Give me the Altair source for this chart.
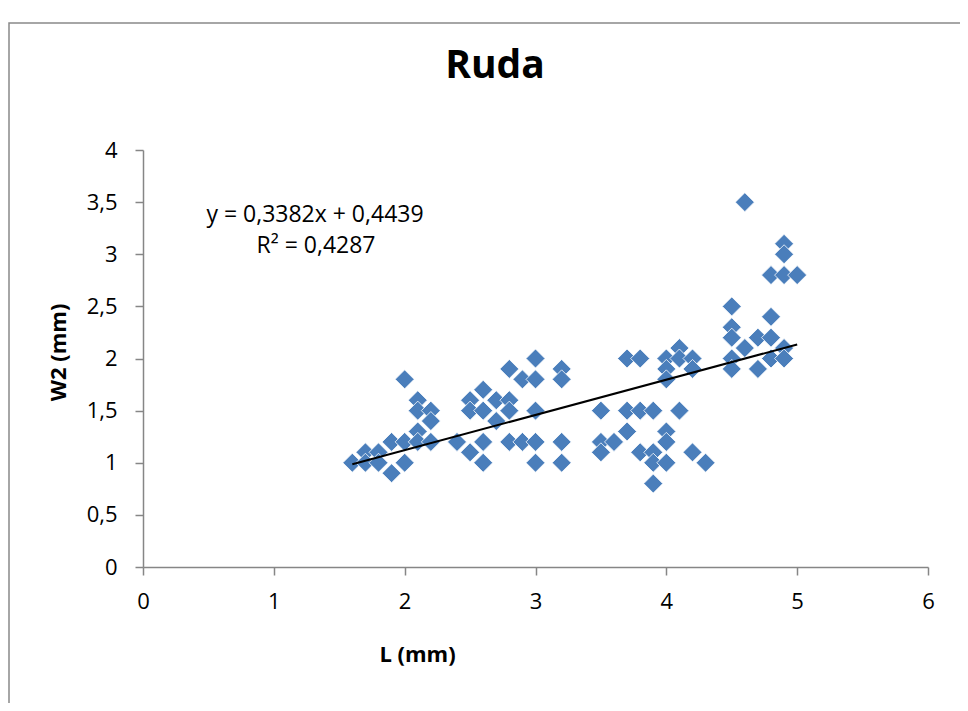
import altair as alt
import pandas as pd

# ---- data ----
L_mm = [1.6,
        1.7, 1.7,
        1.8, 1.8,
        1.9, 1.9,
        2.0, 2.0, 2.0,
        2.1, 2.1, 2.1, 2.1,
        2.2, 2.2, 2.2,
        2.4,
        2.5, 2.5, 2.5,
        2.6, 2.6, 2.6, 2.6,
        2.7, 2.7,
        2.8, 2.8, 2.8, 2.8,
        2.9, 2.9,
        3.0, 3.0, 3.0, 3.0, 3.0,
        3.2, 3.2, 3.2, 3.2,
        3.5, 3.5, 3.5,
        3.6,
        3.7, 3.7, 3.7,
        3.8, 3.8, 3.8,
        3.9, 3.9, 3.9, 3.9,
        4.0, 4.0, 4.0, 4.0, 4.0, 4.0,
        4.1, 4.1, 4.1,
        4.2, 4.2, 4.2,
        4.3,
        4.5, 4.5, 4.5, 4.5, 4.5,
        4.6, 4.6,
        4.7, 4.7,
        4.8, 4.8, 4.8, 4.8,
        4.9, 4.9, 4.9, 4.9, 4.9,
        5.0]
W2_mm = [1.0,
         1.1, 1.0,
         1.1, 1.0,
         1.2, 0.9,
         1.8, 1.2, 1.0,
         1.6, 1.5, 1.3, 1.2,
         1.5, 1.4, 1.2,
         1.2,
         1.6, 1.5, 1.1,
         1.7, 1.5, 1.2, 1.0,
         1.6, 1.4,
         1.9, 1.6, 1.5, 1.2,
         1.8, 1.2,
         2.0, 1.8, 1.5, 1.2, 1.0,
         1.9, 1.8, 1.2, 1.0,
         1.5, 1.2, 1.1,
         1.2,
         2.0, 1.5, 1.3,
         2.0, 1.5, 1.1,
         1.5, 1.1, 1.0, 0.8,
         2.0, 1.9, 1.8, 1.3, 1.2, 1.0,
         2.1, 2.0, 1.5,
         2.0, 1.9, 1.1,
         1.0,
         2.5, 2.3, 2.2, 2.0, 1.9,
         3.5, 2.1,
         2.2, 1.9,
         2.8, 2.4, 2.2, 2.0,
         3.1, 3.0, 2.8, 2.1, 2.0,
         2.8]

trend_slope = 0.3382
trend_intercept = 0.4439
trend_x = [1.6, 5.0]
title_text = "Ruda"
eq_text = "y = 0,3382x + 0,4439"
r2_text = "R² = 0,4287"
x_ticks = [0, 1, 2, 3, 4, 5, 6]
y_ticks = [0, 0.5, 1, 1.5, 2, 2.5, 3, 3.5, 4]

pts = pd.DataFrame({"L": L_mm, "W2": W2_mm})
trend = pd.DataFrame({"L": trend_x})
one = pd.DataFrame({"k": [0]})

FONT = "Open Sans"
AX = "#868686"

x_axis = alt.Axis(values=x_ticks, grid=False, domainColor=AX, domainWidth=1.5,
                  tickColor=AX, tickWidth=1.5, tickSize=8, labelFlush=False,
                  labelFont=FONT, labelFontSize=22, labelColor="black", labelPadding=16,
                  title="L (mm)", titleFont=FONT, titleFontSize=22, titleFontWeight="bold",
                  titleColor="black", titleX=274, titleY=94, titleAlign="center",
                  titleBaseline="alphabetic")
y_axis = alt.Axis(values=y_ticks, grid=False, domainColor=AX, domainWidth=1.5,
                  tickColor=AX, tickWidth=1.5, tickSize=8, format="~g", labelFlush=False,
                  labelExpr="replace(datum.label, '.', ',')",
                  labelFont=FONT, labelFontSize=22, labelColor="black", labelPadding=18,
                  title="W2 (mm)", titleFont=FONT, titleFontSize=22, titleFontWeight="bold",
                  titleColor="black", titleX=-78, titleY=202, titleAlign="center",
                  titleBaseline="alphabetic", titleAngle=270)

x_enc = alt.X("L:Q", scale=alt.Scale(domain=[0, 6], nice=False), axis=x_axis)
y_enc = alt.Y("W2:Q", scale=alt.Scale(domain=[0, 4], nice=False), axis=y_axis)

frame = alt.Chart(one).mark_rect(fillOpacity=0, stroke="#898989", strokeWidth=1.5).encode(
    x=alt.value(-134), x2=alt.value(900), y=alt.value(-127), y2=alt.value(700))

points = alt.Chart(pts).mark_point(shape="diamond", filled=True, size=361,
                                   fill="#4A7EBB", stroke="white", strokeWidth=0.8,
                                   opacity=1).encode(x=x_enc, y=y_enc)

line = alt.Chart(trend).transform_calculate(
    W2=f"{trend_slope} * datum.L + {trend_intercept}"
).mark_line(color="black", strokeWidth=2).encode(x=x_enc, y=y_enc)

title = alt.Chart(one).mark_text(text=title_text, font=FONT, fontSize=39, fontWeight="bold",
                                 color="black", align="center", baseline="alphabetic").encode(
    x=alt.value(352), y=alt.value(-72))

eq = alt.Chart(one).mark_text(text=eq_text, font=FONT, fontSize=23, color="black",
                              align="center", baseline="alphabetic").encode(
    x=alt.value(172), y=alt.value(72))
r2 = alt.Chart(one).mark_text(text=r2_text, font=FONT, fontSize=23, color="black",
                              align="center", baseline="alphabetic").encode(
    x=alt.value(173), y=alt.value(103))

chart = alt.layer(frame, points, line, title, eq, r2).properties(
    width=785, height=417,
    padding={"left": 135, "top": 142, "right": 32, "bottom": 136},
    autosize=alt.AutoSizeParams(type="none"),
).configure_view(stroke=None)

chart.save("out.html", embed_options={"renderer": "svg", "actions": False})
